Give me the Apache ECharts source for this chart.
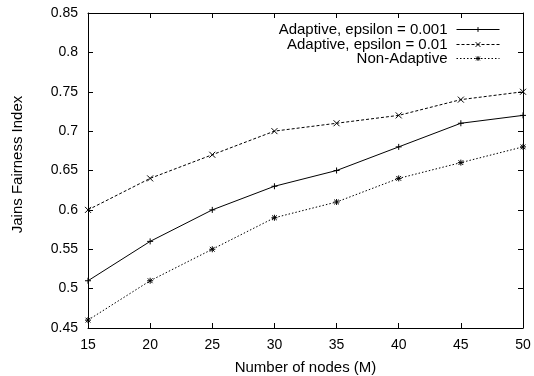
<!DOCTYPE html>
<html><head><meta charset="utf-8">
<script src="https://cdn.jsdelivr.net/npm/echarts@6/dist/echarts.min.js"></script>
<style>html,body{margin:0;padding:0;background:#fff}#c{width:534px;height:376px}</style>
</head><body><div id="c"></div>
<script>
const nodes = [15, 20, 25, 30, 35, 40, 45, 50];
const adaptive001 = [0.51, 0.56, 0.60, 0.63, 0.65, 0.68, 0.71, 0.72];
const adaptive01 = [0.60, 0.64, 0.67, 0.70, 0.71, 0.72, 0.74, 0.75];
const nonAdaptive = [0.46, 0.51, 0.55, 0.59, 0.61, 0.64, 0.66, 0.68];
const names = ['Adaptive, epsilon = 0.001', 'Adaptive, epsilon = 0.01', 'Non-Adaptive'];

const FONT = 'Liberation Sans';
const plus = 'path://M0,5L10,5M5,0L5,10';
const cross = 'path://M0,0L10,10M0,10L10,0';
const star = 'path://M0,5L10,5M5,0L5,10M1,1L9,9M1,9L9,1';

const chart = echarts.init(document.getElementById('c'));
function pts(arr){ return nodes.map((x,i)=>[x,arr[i]]); }
const axisCommon = {
  axisLine:{show:true, onZero:false, lineStyle:{color:'#000', width:1}},
  axisTick:{show:true, inside:true, length:5, lineStyle:{color:'#000'}},
  splitLine:{show:false}
};
function mkSeries(name, arr, type, sym){
  return {
    name, type:'line', data:pts(arr), symbol:sym, symbolSize:6, showSymbol:true,
    lineStyle:{color:'#000', width:1, type:type},
    itemStyle:{color:'none', borderColor:'#000', borderWidth:1},
    emphasis:{disabled:true}, animation:false
  };
}
const legendBase = {
  orient:'vertical', right:29, align:'right', itemWidth:43, itemHeight:6, itemGap:0,
  textStyle:{fontFamily:FONT, fontSize:15, color:'#000', padding:[0,4,0,0]},
  lineStyle:{width:1}, itemStyle:{borderWidth:1}
};
chart.setOption({
  animation:false,
  grid:{left:88, right:11, top:13, bottom:48, containLabel:false, outerBoundsMode:'none'},
  legend:[
    Object.assign({}, legendBase, {top:17, data:[names[0]]}),
    Object.assign({}, legendBase, {top:32, data:[names[1]]}),
    Object.assign({}, legendBase, {top:46, data:[names[2]]})
  ],
  xAxis:[
    Object.assign({type:'value', min:15, max:50, interval:5, position:'bottom',
      name:'Number of nodes (M)', nameLocation:'middle', nameGap:32,
      nameTextStyle:{fontFamily:FONT, fontSize:15, color:'#000'},
      axisLabel:{fontFamily:FONT, fontSize:14, color:'#000', margin:10}}, axisCommon),
    Object.assign({type:'value', min:15, max:50, interval:5, position:'top',
      axisLabel:{show:false}}, axisCommon)
  ],
  yAxis:[
    Object.assign({type:'value', min:0.45, max:0.85, interval:0.05, position:'left',
      name:'Jains Fairness Index', nameLocation:'middle', nameGap:63,
      nameTextStyle:{fontFamily:FONT, fontSize:15, color:'#000', padding:[0,0,0,12]},
      axisLabel:{fontFamily:FONT, fontSize:14, color:'#000', margin:10,
        formatter:v=>String(parseFloat(v.toFixed(2)))}}, axisCommon),
    Object.assign({type:'value', min:0.45, max:0.85, interval:0.05, position:'right',
      axisLabel:{show:false}}, axisCommon)
  ],
  series:[
    mkSeries(names[0], adaptive001, 'solid', plus),
    mkSeries(names[1], adaptive01, [3,2], cross),
    mkSeries(names[2], nonAdaptive, [1.5,2], star)
  ]
});
</script></body></html>
